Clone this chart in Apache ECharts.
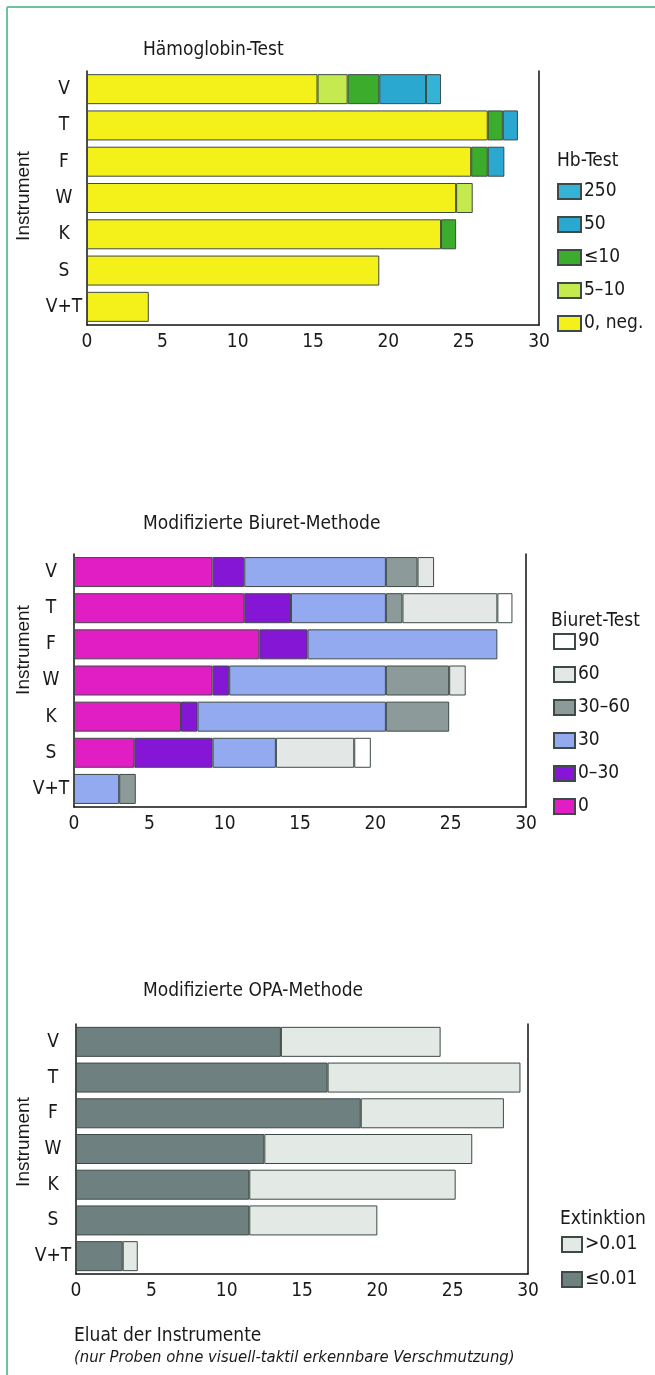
<!DOCTYPE html>
<html><head><meta charset="utf-8">
<script src="https://cdn.jsdelivr.net/npm/echarts@6/dist/echarts.min.js"></script>
<style>html,body{margin:0;padding:0;background:#fff}#c{width:655px;height:1375px}</style>
</head><body><div id="c"></div>
<script>
const instruments = ['V','T','F','W','K','S','V+T'];
const xTicks = [0,5,10,15,20,25,30];

// Chart 1: Hämoglobin-Test (stack order left to right)
const hbNames = ['0, neg.','5–10','≤10','50','250'];
const hbNeg   = [15.3, 26.6, 25.5, 24.5, 23.5, 19.4, 4.1];
const hb5to10 = [2.0, null, null, 1.1, null, null, null];
const hbLe10  = [2.1, 1.0, 1.1, null, 1.0, null, null];
const hb50    = [3.1, 1.0, 1.1, null, null, null, null];
const hb250   = [1.0, null, null, null, null, null, null];

// Chart 2: Modifizierte Biuret-Methode
const biNames = ['0','0–30','30','30–60','60','90'];
const bi0     = [9.2, 11.3, 12.3, 9.2, 7.1, 4.0, null];
const bi0to30 = [2.1, 3.1, 3.2, 1.1, 1.1, 5.2, null];
const bi30    = [9.4, 6.3, 12.6, 10.4, 12.5, 4.2, 3.0];
const bi30to60= [2.1, 1.1, null, 4.2, 4.2, null, 1.1];
const bi60    = [1.1, 6.3, null, 1.1, null, 5.2, null];
const bi90    = [null, 1.0, null, null, null, 1.1, null];

// Chart 3: Modifizierte OPA-Methode
const opaNames = ['≤0.01','>0.01'];
const opaLow  = [13.6, 16.7, 18.9, 12.5, 11.5, 11.5, 3.1];
const opaHigh = [10.6, 12.8, 9.5, 13.8, 13.7, 8.5, 1.0];

const FONT = '"Liberation Sans Narrow","DejaVu Sans Condensed","Liberation Sans",sans-serif';
const TXT = '#1a1a1a';
const FS = 19;

const grids = [
  {left:87, right:116, top:71, height:254},
  {left:74, right:129, top:554, height:253},
  {left:76, right:127, top:1024, height:250}
];

function xAx(i){
  return {gridIndex:i, type:'value', min:0, max:30, interval:5,
    axisLine:{show:true, lineStyle:{color:'#111', width:1.5}},
    axisTick:{show:false}, splitLine:{show:false},
    axisLabel:{color:TXT, fontFamily:FONT, fontSize:FS, margin:8,
      formatter:v=>xTicks.indexOf(v)>=0?String(v):''}};
}
function yAx(i){
  return [{gridIndex:i, type:'category', data:instruments, inverse:true,
    axisLine:{show:true, lineStyle:{color:'#111', width:1.5}},
    axisTick:{show:false},
    axisLabel:{color:TXT, fontFamily:FONT, fontSize:FS, margin:23, align:'center'}},
   {gridIndex:i, type:'category', data:instruments, inverse:true, position:'right',
    axisLine:{show:true, lineStyle:{color:'#111', width:1.5}},
    axisTick:{show:false}, axisLabel:{show:false}}];
}
function bar(name, data, color, gi, stack){
  return {type:'bar', name:name, data:data, stack:stack, xAxisIndex:gi, yAxisIndex:gi*2,
    barWidth:30, itemStyle:{color:color, borderColor:'#3d4a45', borderWidth:1}};
}

const series = [
  bar(hbNames[0], hbNeg, '#f4f01a', 0, 'hb'),
  bar(hbNames[1], hb5to10, '#c4ea50', 0, 'hb'),
  bar(hbNames[2], hbLe10, '#3cac2c', 0, 'hb'),
  bar(hbNames[3], hb50, '#2aa8cf', 0, 'hb'),
  bar(hbNames[4], hb250, '#35b3d6', 0, 'hb'),
  bar(biNames[0], bi0, '#e01ec4', 1, 'bi'),
  bar(biNames[1], bi0to30, '#8616d6', 1, 'bi'),
  bar(biNames[2], bi30, '#93aaf0', 1, 'bi'),
  bar(biNames[3], bi30to60, '#8c9a9a', 1, 'bi'),
  bar(biNames[4], bi60, '#e3e7e5', 1, 'bi'),
  bar(biNames[5], bi90, '#ffffff', 1, 'bi'),
  bar(opaNames[0], opaLow, '#6f8081', 2, 'opa'),
  bar(opaNames[1], opaHigh, '#e3e9e5', 2, 'opa')
];

function legend(data, left, top, gap, iw, ih){
  return {data:data, orient:'vertical', left:left, top:top, itemWidth:iw, itemHeight:ih,
    itemGap:gap, icon:'rect', selectedMode:false, padding:0,
    textStyle:{color:TXT, fontFamily:FONT, fontSize:FS, padding:[0,0,0,-2]}};
}

const titleStyle = {color:TXT, fontFamily:FONT, fontSize:FS, fontWeight:'normal'};
function instrLabel(x, y){
  return {type:'text', x:x, y:y, rotation:Math.PI/2,
    style:{text:'Instrument', fill:TXT, font:'19px "Liberation Sans", sans-serif',
      textAlign:'center', textVerticalAlign:'middle'}};
}
const option = {
  animation:false,
  backgroundColor:'#fff',
  title:[
    {text:'Hämoglobin-Test', left:143, top:41, textStyle:titleStyle, padding:0},
    {text:'Modifizierte Biuret-Methode', left:143, top:515, textStyle:titleStyle, padding:0},
    {text:'Modifizierte OPA-Methode', left:143, top:982, textStyle:titleStyle, padding:0},
    {text:'Hb-Test', left:557, top:152, textStyle:titleStyle, padding:0},
    {text:'Biuret-Test', left:551, top:612, textStyle:titleStyle, padding:0},
    {text:'Extinktion', left:560, top:1210, textStyle:titleStyle, padding:0},
    {text:'Eluat der Instrumente', left:74, top:1327, textStyle:titleStyle, padding:0},
    {text:'(nur Proben ohne visuell-taktil erkennbare Verschmutzung)', left:74, top:1349,
     textStyle:{color:TXT, fontFamily:FONT, fontSize:16.5, fontStyle:'italic', fontWeight:'normal'}, padding:0}
  ],
  legend:[
    legend(['250','50','≤10','5–10','0, neg.'], 557, 182, 14, 23, 15),
    legend(['90','60','30–60','30','0–30','0'], 553, 632, 14, 21, 15),
    legend(['>0.01','≤0.01'], 561, 1235, 16, 20, 15)
  ],
  grid:grids,
  xAxis:[xAx(0), xAx(1), xAx(2)],
  yAxis:[].concat(yAx(0), yAx(1), yAx(2)),
  series:series,
  graphic:[
    {type:'line', shape:{x1:7, y1:7, x2:655, y2:7}, style:{stroke:'#6cc59a', lineWidth:2}},
    {type:'line', shape:{x1:7, y1:7, x2:7, y2:1375}, style:{stroke:'#6cc59a', lineWidth:2}},
    instrLabel(24, 196),
    instrLabel(24, 650),
    instrLabel(24, 1142)
  ]
};
const chart = echarts.init(document.getElementById('c'), null, {renderer:'canvas'});
chart.setOption(option);
</script></body></html>
